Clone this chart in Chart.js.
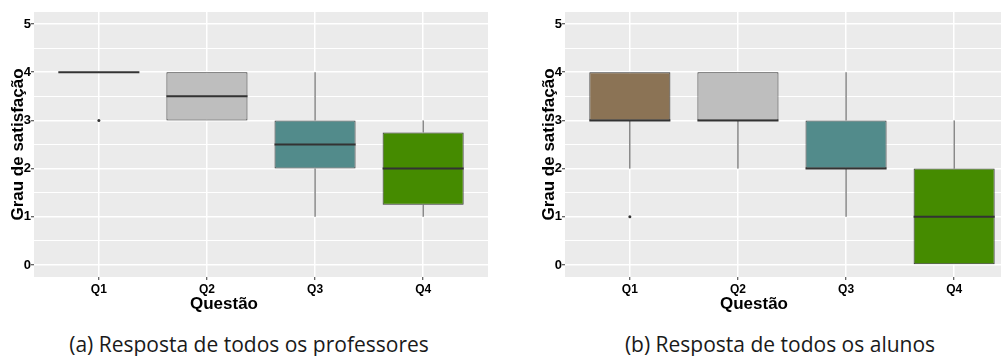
<!DOCTYPE html>
<html>
<head>
<meta charset="utf-8">
<script src="https://cdn.jsdelivr.net/npm/chart.js@4.4.1/dist/chart.umd.min.js"></script>
<style>
  html, body { margin: 0; padding: 0; background: #fff; width: 1006px; height: 356px; overflow: hidden; }
  .panel { position: absolute; top: 0; height: 313px; overflow: hidden; }
  .caption { position: absolute; top: 334px; width: 500px; text-align: center;
             font-family: "Open Sans", sans-serif; font-size: 21px; line-height: 21px; color: #1a1a1a; white-space: nowrap; }
  .xtitle { position: absolute; top: 295px; width: 200px; text-align: center;
            font-family: "Liberation Sans", Arial, sans-serif; font-weight: bold; font-size: 17px; line-height: 17px; color: #000; }
</style>
</head>
<body>
<div class="panel" style="left:0; width:500px;"><canvas id="chartA" width="500" height="313"></canvas></div>
<div class="panel" style="left:531px; width:470px;"><canvas id="chartB" width="500" height="313"></canvas></div>
<div class="xtitle" style="left:124px;">Questão</div>
<div class="xtitle" style="left:654px;">Questão</div>
<div class="caption" style="left:-1px;">(a) Resposta de todos os professores</div>
<div class="caption" style="left:530px;">(b) Resposta de todos os alunos</div>
<script>
const categories = ['Q1', 'Q2', 'Q3', 'Q4'];
const yTicks = [0, 1, 2, 3, 4, 5];
const boxColors = ['#8B7355', '#BEBEBE', '#528B8B', '#458B00'];

// (a) professores
const profMin = [4, 3, 1, 1];
const profQ1 = [4, 3, 2, 1.25];
const profMedian = [4, 3.5, 2.5, 2];
const profQ3 = [4, 4, 3, 2.75];
const profMax = [4, 4, 4, 3];
const profOutliers = [[3], [], [], []];

// (b) alunos
const alunMin = [2, 2, 1, 0];
const alunQ1 = [3, 3, 2, 0];
const alunMedian = [3, 3, 2, 1];
const alunQ3 = [4, 4, 3, 2];
const alunMax = [4, 4, 4, 3];
const alunOutliers = [[1], [], [], []];

const BOX_WIDTH = 0.75;
const FONT = '"Liberation Sans", Arial, sans-serif';

const panelBg = {
  id: 'panelBg',
  beforeDraw(chart) {
    const {ctx, chartArea: a} = chart;
    ctx.save();
    ctx.fillStyle = '#EBEBEB';
    ctx.fillRect(a.left, a.top, a.right - a.left, a.bottom - a.top);
    ctx.restore();
  }
};

function boxplot(id, mins, q1s, medians, q3s, maxs, outliers) {
  const boxes = categories.map((c, i) => ({x: i + 1, y: [q1s[i], q3s[i]]}));
  const medianPts = [];
  const whiskerPts = [];
  const outlierPts = [];
  categories.forEach((c, i) => {
    const x = i + 1;
    medianPts.push({x: x - BOX_WIDTH / 2, y: medians[i]}, {x: x + BOX_WIDTH / 2, y: medians[i]}, {x: x, y: null});
    whiskerPts.push({x: x, y: mins[i]}, {x: x, y: q1s[i]}, {x: x, y: null});
    whiskerPts.push({x: x, y: q3s[i]}, {x: x, y: maxs[i]}, {x: x, y: null});
    outliers[i].forEach(v => outlierPts.push({x: x, y: v}));
  });

  new Chart(document.getElementById(id), {
    type: 'bar',
    data: {
      datasets: [
        {
          type: 'line', data: medianPts, order: 0,
          borderColor: '#333333', borderWidth: 2, pointRadius: 0, spanGaps: false
        },
        {
          type: 'bar', data: boxes, order: 1,
          backgroundColor: boxColors, borderColor: '#333333', borderWidth: 1,
          borderSkipped: false, barPercentage: BOX_WIDTH, categoryPercentage: 1
        },
        {
          type: 'line', data: whiskerPts, order: 2,
          borderColor: '#4d4d4d', borderWidth: 1, pointRadius: 0, spanGaps: false
        },
        {
          type: 'line', data: outlierPts, order: 0, showLine: false,
          pointRadius: 1.5, pointBackgroundColor: '#333333', pointBorderWidth: 0
        }
      ]
    },
    options: {
      responsive: false,
      animation: false,
      layout: {padding: {left: 10, right: 12, top: 12, bottom: 0}},
      plugins: {legend: {display: false}, tooltip: {enabled: false}},
      scales: {
        x: {
          type: 'linear', min: 0.4, max: 4.6, bounds: 'data', offset: false,
          afterBuildTicks: s => { s.ticks = categories.map((c, i) => ({value: i + 1})); },
          afterFit: s => { s.height = 36; },
          border: {display: false},
          grid: {color: '#FFFFFF', lineWidth: 1.5, offset: false, drawTicks: true, tickLength: 3, tickColor: '#333333', tickWidth: 1},
          ticks: {
            autoSkip: false, maxRotation: 0, padding: 2, color: '#000',
            font: {family: FONT, size: 12, weight: 'bold'},
            callback: v => categories[v - 1]
          },
          title: {display: false}
        },
        y: {
          type: 'linear', min: -0.25, max: 5.25, bounds: 'data',
          afterBuildTicks: s => {
            const t = [];
            yTicks.forEach((v, i) => {
              t.push({value: v});
              if (i < yTicks.length - 1) t.push({value: (v + yTicks[i + 1]) / 2});
            });
            s.ticks = t;
          },
          afterFit: s => { s.width = 24; },
          border: {display: false},
          grid: {
            color: '#FFFFFF',
            lineWidth: c => Number.isInteger(c.tick.value) ? 1.5 : 1,
            drawTicks: true, tickLength: 3, tickWidth: 1,
            tickColor: c => Number.isInteger(c.tick.value) ? '#333333' : 'rgba(0,0,0,0)'
          },
          ticks: {
            autoSkip: false, padding: 0, color: '#000',
            font: {family: FONT, size: 13, weight: 'bold'},
            callback: v => Number.isInteger(v) ? String(v) : ''
          },
          title: {display: true, text: 'Grau de satisfação', color: '#000', padding: {top: -2, bottom: 0},
                  font: {family: FONT, size: 17, weight: 'bold'}}
        }
      }
    },
    plugins: [panelBg]
  });
}

boxplot('chartA', profMin, profQ1, profMedian, profQ3, profMax, profOutliers);
boxplot('chartB', alunMin, alunQ1, alunMedian, alunQ3, alunMax, alunOutliers);
</script>
</body>
</html>
